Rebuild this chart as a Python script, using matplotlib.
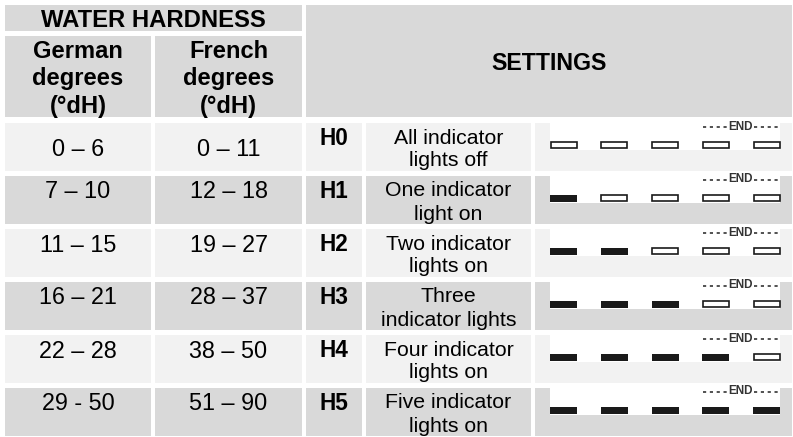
import matplotlib.pyplot as plt
from matplotlib.patches import Rectangle

# table content
german = ["0 – 6", "7 – 10", "11 – 15", "16 – 21", "22 – 28", "29 - 50"]
french = ["0 – 11", "12 – 18", "19 – 27", "28 – 37", "38 – 50", "51 – 90"]
codes = ["H0", "H1", "H2", "H3", "H4", "H5"]
descriptions = ["All indicator\nlights off", "One indicator\nlight on",
                "Two indicator\nlights on", "Three\nindicator lights",
                "Four indicator\nlights on", "Five indicator\nlights on"]
lights_on = [0, 1, 2, 3, 4, 5]
n_lights = 5

plt.rcParams['font.family'] = ['Liberation Sans', 'DejaVu Sans']

light = "#f2f2f2"
dark = "#d9d9d9"

fig = plt.figure(figsize=(7.93, 4.37), dpi=100)
ax = fig.add_axes([0, 0, 1, 1])
ax.set_xlim(0, 793)
ax.set_ylim(437, 0)
ax.axis('off')

def cell(x0, x1, y0, y1, color):
    ax.add_patch(Rectangle((x0, y0), x1 - x0, y1 - y0, facecolor=color, linewidth=0))

# column edges (pixels)
cols = [(5, 151), (155, 302), (306, 362), (366, 531), (535, 792)]

# header
cell(5, 302, 5, 31, dark)
cell(5, 151, 36, 117, dark)
cell(155, 302, 36, 117, dark)
cell(306, 792, 5, 117, dark)
ax.text(153.5, 27, "WATER HARDNESS", ha='center', va='baseline', fontsize=17.2, fontweight='bold')
for (x0, x1), word in zip(cols[:2], ["German", "French"]):
    xc = (x0 + x1) / 2
    for yb, line in zip([58, 85.5, 113], [word, "degrees", "(°dH)"]):
        ax.text(xc, yb, line, ha='center', va='baseline', fontsize=17.1, fontweight='bold')
ax.text(549, 70, "SETTINGS", ha='center', va='baseline', fontsize=16.7, fontweight='bold')

# data rows
for i in range(len(codes)):
    top = 123 + i * 53
    bot = top + 48
    bg = light if i % 2 == 0 else dark
    for x0, x1 in cols:
        cell(x0, x1, top, bot, bg)

    yb = top + 32.5 if i == 0 else top + 22.5
    ax.text(78, yb, german[i], ha='center', va='baseline', fontsize=16.8)
    ax.text(228.5, yb, french[i], ha='center', va='baseline', fontsize=16.8)
    ax.text(334, top + 22, codes[i], ha='center', va='baseline', fontsize=16.3, fontweight='bold')
    for k, line in enumerate(descriptions[i].split("\n")):
        ax.text(448.5, top + 20.5 + 23 * k, line, ha='center', va='baseline', fontsize=15.3)

    # indicator panel
    cell(550, 780, top, top + 26.5, "white")
    ax.plot([703, 727], [top + 3.5, top + 3.5], color="#333333", lw=1.2, dashes=(1.9, 2.2))
    ax.plot([754, 780], [top + 3.5, top + 3.5], color="#333333", lw=1.2, dashes=(1.9, 2.2))
    ax.text(740.5, top + 3.5, "END", ha='center', va='center', fontsize=8.4,
            fontweight='bold', color="#333333")
    for j in range(n_lights):
        lx = 550 + j * 50.75
        if j < lights_on[i]:
            ax.add_patch(Rectangle((lx, top + 18.5), 27, 7.5, facecolor="#1a1a1a", linewidth=0))
        else:
            ax.add_patch(Rectangle((lx + 0.5, top + 19), 26, 6, facecolor="white",
                                   edgecolor="#1a1a1a", linewidth=1.2))

fig.savefig("out.png", dpi=100)
